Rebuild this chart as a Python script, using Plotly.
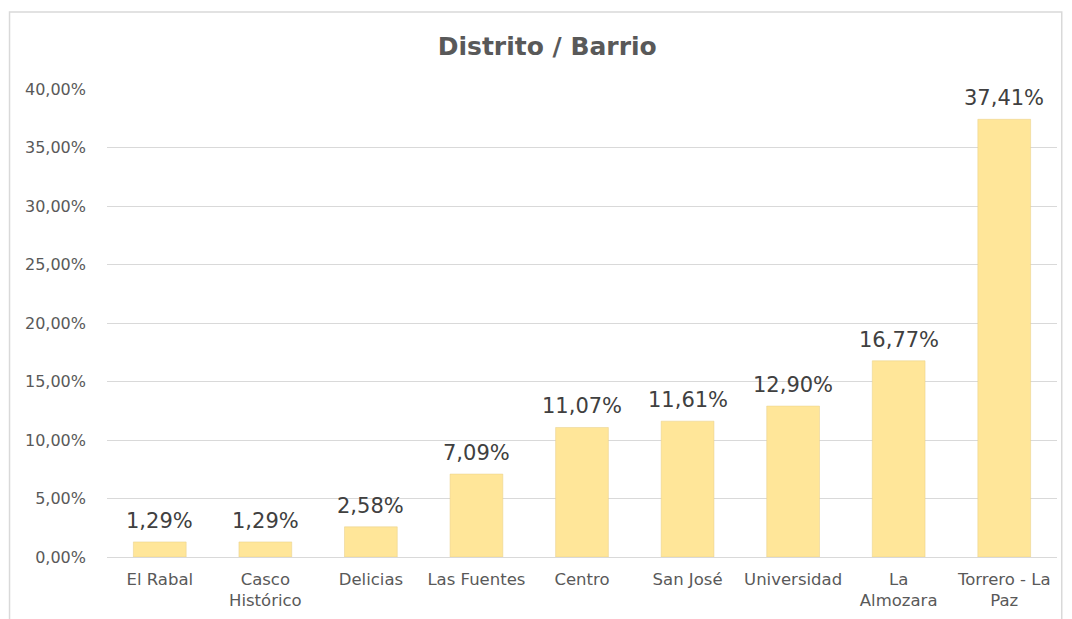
import plotly.graph_objects as go

categories = ["El Rabal", "Casco Histórico", "Delicias", "Las Fuentes", "Centro",
              "San José", "Universidad", "La Almozara", "Torrero - La Paz"]
tick_labels = ["El Rabal", "Casco<br>Histórico", "Delicias", "Las Fuentes", "Centro",
               "San José", "Universidad", "La<br>Almozara", "Torrero - La<br>Paz"]
values = [0.0129, 0.0129, 0.0258, 0.0709, 0.1107, 0.1161, 0.1290, 0.1677, 0.3741]
y_ticks = [0, 0.05, 0.10, 0.15, 0.20, 0.25, 0.30, 0.35, 0.40]

font = "DejaVu Sans, Verdana, sans-serif"

fig = go.Figure()
fig.add_trace(go.Bar(
    x=categories, y=values,
    marker=dict(color="#FFE699", line=dict(color="#E6CF88", width=0.5)),
    width=0.5,
))

annotations = [
    dict(x=c, y=v, xref="x", yref="y", text=f"{v*100:.2f}%".replace(".", ","),
         showarrow=False, yanchor="bottom", yshift=7,
         font=dict(family=font, size=21, color="#404040"))
    for c, v in zip(categories, values)
]

fig.update_layout(
    width=1072, height=619,
    paper_bgcolor="white", plot_bgcolor="white",
    separators=",.",
    margin=dict(l=99, r=23, t=81, b=70),
    title=dict(text="<b>Distrito / Barrio</b>", x=0.503, xanchor="center",
               y=0.9386, yanchor="middle",
               font=dict(family=font, size=25, color="#595959")),
    showlegend=False,
    xaxis=dict(tickvals=categories, ticktext=tick_labels, showgrid=False,
               showline=True, linecolor="#D9D9D9", linewidth=1, ticks="",
               tickfont=dict(family=font, size=16.5, color="#595959"),
               ticklabelstandoff=7),
    yaxis=dict(range=[0, 0.40], tickvals=y_ticks, tickformat=".2%",
               showgrid=True, gridcolor="#D9D9D9", gridwidth=1,
               zeroline=False, ticks="",
               tickfont=dict(family=font, size=16, color="#595959"),
               ticklabelstandoff=20),
    annotations=annotations,
    shapes=[dict(type="rect", xref="paper", yref="paper",
                 x0=-0.1026, x1=1.005, y0=-0.3, y1=1.1645,
                 line=dict(color="#D9D9D9", width=1.5), fillcolor="rgba(0,0,0,0)",
                 layer="below")],
)

fig.write_html("out.html")
